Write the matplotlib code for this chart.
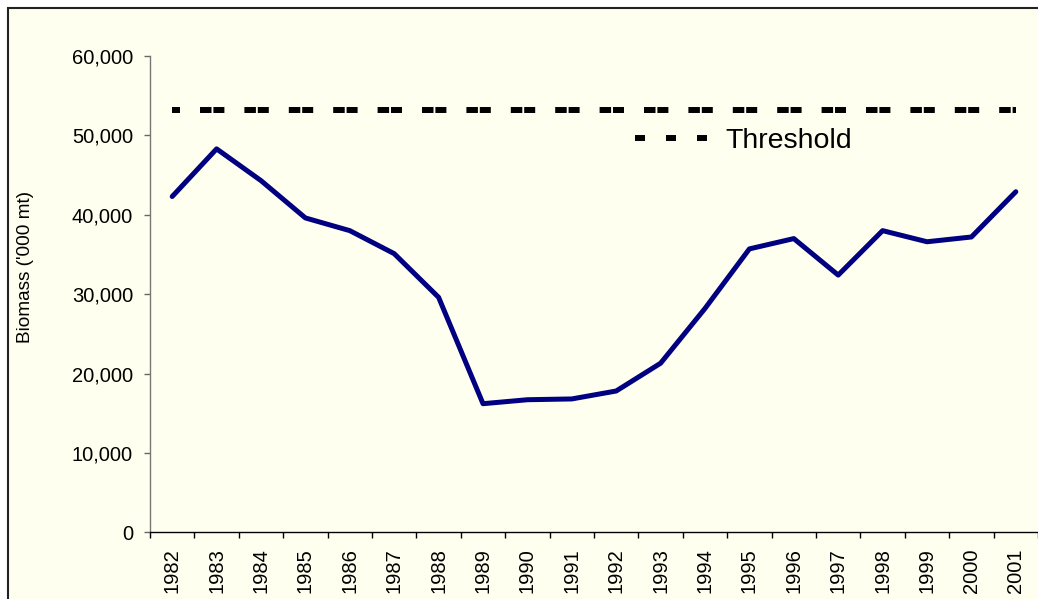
import matplotlib
matplotlib.use("Agg")
import matplotlib.pyplot as plt
from matplotlib.lines import Line2D
from matplotlib.patches import Rectangle
from matplotlib.ticker import FuncFormatter, FixedLocator

plt.rcParams['font.family'] = ['Liberation Sans', 'DejaVu Sans']
plt.rcParams['lines.scale_dashes'] = False

# data
years = [str(y) for y in range(1982, 2002)]
biomass = [42300, 48300, 44300, 39600, 38000, 35100, 29600, 16200, 16700, 16800,
           17800, 21300, 28200, 35700, 37000, 32400, 38000, 36600, 37200, 42900]
threshold = 53200

W, H = 1038, 599
fig = plt.figure(figsize=(W / 100, H / 100), dpi=100, facecolor='white')

# chart area frame (cut off on the right and bottom in the reference)
frame = Rectangle((8 / W, -0.2), 1.2, 1.2 - 7.5 / H, transform=fig.transFigure,
                  facecolor='#FFFFF0', edgecolor='#222222', linewidth=1.5, zorder=-1)
fig.add_artist(frame)

left, right, top, bottom = 150, 1038, 56, 532.3
ax = fig.add_axes([left / W, 1 - bottom / H, (right - left) / W, (bottom - top) / H])
ax.set_facecolor('none')

x = list(range(len(years)))
ax.plot(x, biomass, color='#000080', linewidth=3.6, solid_joinstyle='round',
        solid_capstyle='round', zorder=3)

# threshold dashes repeat once per category like the original
px = 0.72
thr_line, = ax.plot(x, [threshold] * len(x), color='black', linewidth=4.3, zorder=2,
                    linestyle=(3 * px, (11 * px, 20 * px, 11.5 * px, 1.9 * px)),
                    dash_capstyle='butt')

ax.set_xlim(-0.5, len(x) - 0.5)
ax.set_ylim(0, 60000)
ax.set_yticks(range(0, 60001, 10000))
ax.yaxis.set_major_formatter(FuncFormatter(lambda v, p: '{:,.0f}'.format(v)))

ax.set_xticks(x)
ax.set_xticklabels(years, rotation=90)
ax.xaxis.set_minor_locator(FixedLocator([i - 0.5 for i in range(len(x) + 1)]))

ax.tick_params(axis='x', which='major', length=0, pad=11.5, labelsize=14.5)
ax.tick_params(axis='x', which='minor', length=4.3, width=1, color='black', direction='out')
ax.tick_params(axis='y', which='major', length=4.3, width=1, color='#666666',
               direction='out', pad=7.9, labelsize=14.5)

for s in ['top', 'right']:
    ax.spines[s].set_visible(False)
ax.spines['left'].set_color('#777777')
ax.spines['left'].set_linewidth(1)
ax.spines['bottom'].set_color('black')
ax.spines['bottom'].set_linewidth(1)

fig.text(26 / W, 1 - 267 / H, "Biomass ('000 mt)", rotation=90, ha='center', va='center',
         fontsize=13.7)

handle = Line2D([], [], color='black', linewidth=4.3, linestyle=(0, (10 * px, 21 * px)),
                dash_capstyle='butt')
ax.legend([handle], ['Threshold'], loc='center left',
          bbox_to_anchor=(635 / W, 1 - 141 / H), bbox_transform=fig.transFigure,
          frameon=False, fontsize=20.5, handlelength=2.53, handletextpad=0.63,
          borderpad=0, borderaxespad=0)

fig.savefig('out.png', dpi=100)
